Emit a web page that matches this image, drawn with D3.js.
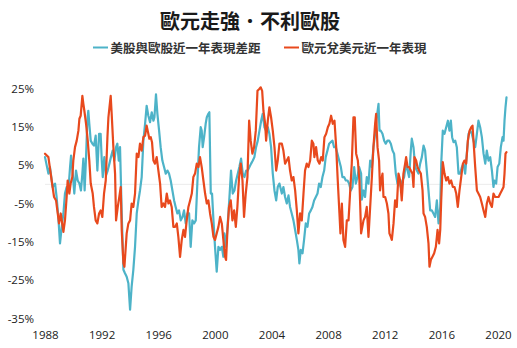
<!DOCTYPE html>
<html>
<head>
<meta charset="utf-8">
<script src="https://cdn.jsdelivr.net/npm/d3@7"></script>
<style>
  html, body { margin: 0; padding: 0; background: #fff; }
  svg { display: block; }
</style>
</head>
<body>
<svg id="chart" width="517" height="348"></svg>
<script>
// Chart text
const chartTitle = "歐元走強．不利歐股";
const seriesNames = ["美股與歐股近一年表現差距", "歐元兌美元近一年表現"];
const seriesColors = ["#4db3c8", "#e8491d"];

// Axis ticks
const yTickValues = [25, 15, 5, -5, -15, -25, -35];
const xTickValues = [1988, 1992, 1996, 2000, 2004, 2008, 2012, 2016, 2020];

// US minus European equities, trailing one-year return gap (%)
const spreadYears = [
  1988.00, 1988.24, 1988.35, 1988.54, 1988.71, 1988.82, 1988.94, 1989.06, 1989.18, 1989.30,
  1989.41, 1989.53, 1989.65, 1989.77, 1989.84, 1989.96, 1990.07, 1990.19, 1990.31, 1990.43,
  1990.54, 1990.64, 1990.71, 1990.80, 1990.90, 1990.99, 1991.06, 1991.13, 1991.23, 1991.35,
  1991.46, 1991.58, 1991.70, 1991.82, 1991.93, 1992.01, 1992.08, 1992.19, 1992.31, 1992.43,
  1992.55, 1992.66, 1992.78, 1992.90, 1993.02, 1993.11, 1993.21, 1993.30, 1993.42, 1993.54,
  1993.65, 1993.77, 1993.89, 1994.01, 1994.12, 1994.24, 1994.36, 1994.48, 1994.60, 1994.71,
  1994.83, 1994.95, 1995.07, 1995.18, 1995.30, 1995.42, 1995.54, 1995.66, 1995.73, 1995.84,
  1995.94, 1996.06, 1996.17, 1996.29, 1996.41, 1996.53, 1996.65, 1996.76, 1996.88, 1997.00,
  1997.12, 1997.23, 1997.35, 1997.47, 1997.59, 1997.71, 1997.82, 1997.94, 1998.06, 1998.18,
  1998.29, 1998.41, 1998.53, 1998.65, 1998.77, 1998.88, 1999.00, 1999.07, 1999.14, 1999.24,
  1999.35, 1999.43, 1999.54, 1999.61, 1999.71, 1999.80, 1999.90, 2000.01, 2000.13, 2000.25,
  2000.37, 2000.49, 2000.60, 2000.67, 2000.79, 2000.91, 2001.03, 2001.14, 2001.26, 2001.38,
  2001.50, 2001.62, 2001.73, 2001.85, 2001.97, 2002.09, 2002.21, 2002.32, 2002.44, 2002.56,
  2002.68, 2002.79, 2002.91, 2003.03, 2003.15, 2003.27, 2003.38, 2003.50, 2003.62, 2003.74,
  2003.85, 2003.97, 2004.09, 2004.21, 2004.33, 2004.44, 2004.56, 2004.73, 2004.84, 2004.96,
  2005.08, 2005.20, 2005.31, 2005.43, 2005.55, 2005.67, 2005.79, 2005.90, 2005.97, 2006.07,
  2006.19, 2006.30, 2006.42, 2006.54, 2006.66, 2006.78, 2006.89, 2007.01, 2007.13, 2007.25,
  2007.36, 2007.48, 2007.60, 2007.72, 2007.83, 2007.95, 2008.07, 2008.19, 2008.31, 2008.42,
  2008.54, 2008.66, 2008.78, 2008.90, 2009.01, 2009.13, 2009.25, 2009.37, 2009.48, 2009.60,
  2009.72, 2009.84, 2009.96, 2010.07, 2010.19, 2010.33, 2010.38, 2010.50, 2010.61, 2010.73,
  2010.85, 2010.97, 2011.09, 2011.20, 2011.32, 2011.44, 2011.56, 2011.63, 2011.72, 2011.84,
  2011.96, 2012.07, 2012.19, 2012.31, 2012.43, 2012.55, 2012.66, 2012.78, 2012.90, 2013.02,
  2013.13, 2013.25, 2013.37, 2013.49, 2013.61, 2013.72, 2013.84, 2013.91, 2014.03, 2014.15,
  2014.27, 2014.38, 2014.50, 2014.62, 2014.74, 2014.85, 2014.97, 2015.09, 2015.21, 2015.33,
  2015.44, 2015.56, 2015.68, 2015.80, 2015.92, 2015.99, 2016.10, 2016.22, 2016.34, 2016.46,
  2016.57, 2016.67, 2016.76, 2016.86, 2016.98, 2017.09, 2017.21, 2017.33, 2017.45, 2017.56,
  2017.68, 2017.80, 2017.92, 2018.04, 2018.15, 2018.27, 2018.39, 2018.51, 2018.62, 2018.74,
  2018.86, 2018.98, 2019.10, 2019.21, 2019.33, 2019.45, 2019.57, 2019.68, 2019.75, 2019.87,
  2019.97, 2020.09, 2020.20, 2020.32, 2020.39, 2020.46, 2020.53, 2020.60
];
const spreadValues = [
  7.1, 2.8, 4.5, -0.7, 0.2, -3.3, -8.5, -15.4, -11.1, -7.6,
  -2.4, -0.7, -1.6, 4.5, 7.5, 2.8, -2.4, 3.6, 1.0, 0.2,
  -1.6, 2.8, 6.7, -1.6, 7.1, 16.6, 19.2, 15.8, 11.4, 10.6,
  10.1, 12.7, 3.6, 13.2, 13.2, 6.2, 1.9, 7.1, 2.3, 3.6,
  5.4, 7.1, 8.8, 6.2, 9.7, 10.6, 6.2, 9.7, -7.6, -22.3,
  -23.2, -24.1, -25.8, -32.7, -26.7, -22.3, -16.3, -7.6, -4.2, -1.6,
  1.9, 11.4, 15.8, 20.5, 17.9, 16.2, 18.8, 16.6, 17.5, 23.5,
  18.4, 14.0, 9.7, 6.2, 4.5, 2.8, 3.6, 2.8, 1.0, -1.6,
  -4.2, -5.9, -7.6, -6.8, -9.4, -8.5, -6.8, -10.2, -7.6, -7.6,
  -16.3, -9.4, -10.2, -9.4, 1.0, 9.7, 14.9, 14.0, 9.7, 12.3,
  15.8, 17.5, 18.4, 18.8, -2.4, -2.4, -9.4, -16.3, -22.8, -16.3,
  -17.1, -16.3, -18.9, -12.8, -16.3, -10.2, -3.3, 3.6, -2.4, -1.6,
  1.0, 2.8, 4.5, 6.7, 2.8, 1.9, 3.6, 3.6, 4.5, 5.4,
  6.2, 7.1, 9.7, 11.4, 14.0, 16.6, 18.4, 14.9, 14.0, 14.9,
  13.2, 9.7, 2.8, -1.6, -4.2, -0.7, 0.2, -2.4, -0.7, -3.3,
  -5.0, -2.9, -5.9, -7.6, -9.4, -11.9, -14.5, -17.1, -20.6, -17.1,
  -18.0, -14.5, -10.2, -11.1, -7.6, -6.8, -5.9, -4.2, -3.3, -2.4,
  0.2, -0.7, 1.9, 3.6, 7.1, 8.8, 10.6, 11.0, 11.4, 9.7,
  9.7, 8.0, 6.2, 4.5, 1.9, 1.9, 1.0, 1.0, 0.2, -1.6,
  -0.7, 4.5, 0.2, 1.9, 4.5, 2.8, -4.0, -1.6, -3.3, 1.9,
  0.2, 6.2, 4.5, 9.7, 13.2, 17.5, 21.0, 14.0, 14.0, 13.2,
  11.4, 10.6, 11.4, 11.4, 10.6, 8.8, 8.0, 2.8, 0.2, 1.0,
  -0.7, 1.0, 1.9, 5.4, 3.6, 1.9, 8.8, 11.9, 9.7, 4.5,
  3.6, 2.8, 5.4, 7.1, 10.1, 8.8, 3.6, -1.6, -6.8, -6.8,
  -7.6, -8.5, -4.2, -10.2, -5.9, 5.4, 14.0, 13.2, 14.9, 16.6,
  14.0, 16.6, 12.3, 11.0, 11.4, 9.7, 2.8, 2.8, 4.5, 5.4,
  2.8, 8.0, 13.2, 14.0, 13.2, 11.4, 9.7, 13.2, 16.6, 14.9,
  12.3, 8.0, 5.4, 8.8, 6.2, 7.1, 3.6, -0.7, 1.0, 0.2,
  4.5, 5.4, 9.7, 12.3, 11.4, 16.6, 20.1, 22.7
];

// EUR/USD trailing one-year change (%)
const eurYears = [
  1988.00, 1988.24, 1988.47, 1988.64, 1988.78, 1988.99, 1989.11, 1989.30, 1989.41, 1989.53,
  1989.60, 1989.72, 1989.81, 1989.93, 1990.00, 1990.12, 1990.24, 1990.36, 1990.43, 1990.52,
  1990.64, 1990.71, 1990.78, 1990.90, 1991.02, 1991.13, 1991.23, 1991.37, 1991.46, 1991.58,
  1991.70, 1991.82, 1991.93, 1992.05, 1992.17, 1992.29, 1992.41, 1992.48, 1992.64, 1992.71,
  1992.83, 1992.95, 1993.02, 1993.14, 1993.25, 1993.35, 1993.42, 1993.54, 1993.61, 1993.77,
  1993.89, 1994.01, 1994.12, 1994.24, 1994.36, 1994.48, 1994.60, 1994.71, 1994.83, 1994.95,
  1995.07, 1995.18, 1995.30, 1995.37, 1995.47, 1995.56, 1995.66, 1995.77, 1995.89, 1996.01,
  1996.13, 1996.24, 1996.36, 1996.48, 1996.60, 1996.72, 1996.83, 1996.95, 1997.07, 1997.19,
  1997.31, 1997.42, 1997.54, 1997.66, 1997.78, 1997.89, 1998.01, 1998.13, 1998.25, 1998.37,
  1998.48, 1998.60, 1998.72, 1998.84, 1998.95, 1999.07, 1999.19, 1999.31, 1999.43, 1999.54,
  1999.66, 1999.78, 1999.90, 2000.01, 2000.13, 2000.25, 2000.37, 2000.49, 2000.60, 2000.72,
  2000.79, 2000.89, 2001.00, 2001.12, 2001.24, 2001.36, 2001.48, 2001.59, 2001.71, 2001.83,
  2001.95, 2002.06, 2002.18, 2002.30, 2002.42, 2002.53, 2002.65, 2002.77, 2002.89, 2003.01,
  2003.12, 2003.24, 2003.34, 2003.43, 2003.55, 2003.62, 2003.74, 2003.85, 2003.97, 2004.09,
  2004.21, 2004.33, 2004.44, 2004.56, 2004.73, 2004.84, 2004.96, 2005.08, 2005.20, 2005.31,
  2005.43, 2005.55, 2005.67, 2005.79, 2005.90, 2006.02, 2006.14, 2006.26, 2006.37, 2006.49,
  2006.61, 2006.73, 2006.85, 2006.96, 2007.03, 2007.15, 2007.27, 2007.39, 2007.51, 2007.62,
  2007.74, 2007.86, 2007.98, 2008.09, 2008.21, 2008.33, 2008.45, 2008.57, 2008.68, 2008.80,
  2008.87, 2008.97, 2009.08, 2009.20, 2009.32, 2009.44, 2009.55, 2009.67, 2009.79, 2009.88,
  2009.98, 2010.10, 2010.21, 2010.33, 2010.50, 2010.61, 2010.73, 2010.85, 2010.97, 2011.09,
  2011.20, 2011.32, 2011.39, 2011.49, 2011.60, 2011.67, 2011.75, 2011.84, 2011.91, 2012.03,
  2012.15, 2012.26, 2012.33, 2012.43, 2012.50, 2012.62, 2012.73, 2012.85, 2012.97, 2013.09,
  2013.20, 2013.32, 2013.44, 2013.51, 2013.61, 2013.72, 2013.84, 2013.96, 2014.03, 2014.10,
  2014.22, 2014.31, 2014.43, 2014.55, 2014.67, 2014.74, 2014.85, 2014.97, 2015.09, 2015.16,
  2015.26, 2015.37, 2015.49, 2015.61, 2015.73, 2015.84, 2015.92, 2015.99, 2016.10, 2016.22,
  2016.34, 2016.46, 2016.57, 2016.69, 2016.81, 2016.93, 2017.05, 2017.16, 2017.28, 2017.40,
  2017.52, 2017.63, 2017.75, 2017.87, 2017.99, 2018.11, 2018.20, 2018.27, 2018.39, 2018.51,
  2018.62, 2018.74, 2018.86, 2018.98, 2019.10, 2019.21, 2019.33, 2019.45, 2019.57, 2019.68,
  2019.80, 2019.92, 2020.04, 2020.16, 2020.27, 2020.39, 2020.46, 2020.53, 2020.60
];
const eurValues = [
  8.0, 7.1, 1.0, -3.3, -4.2, -10.2, -7.6, -12.4, -9.4, -3.3,
  1.0, -2.4, 0.2, 1.9, 6.2, 9.7, 11.4, 14.0, 17.1, 17.9,
  23.1, 21.0, 19.2, 15.8, 11.4, 6.2, 0.2, -2.4, -5.9, -9.4,
  -10.2, -7.6, -6.8, -8.5, -2.4, 1.0, 12.3, 17.5, 23.1, 18.4,
  9.7, 2.8, -9.4, -5.9, -3.3, -0.7, -11.9, -20.6, -21.5, -12.8,
  -10.2, -9.4, -5.0, -5.9, -2.4, 8.0, 7.1, 10.6, 8.8, 12.3,
  12.7, 15.3, 13.2, 11.9, 12.3, 11.0, 6.2, 5.4, 7.1, 3.6,
  0.2, -5.9, -5.0, -5.9, -2.4, -5.0, -4.2, -5.9, -11.1, -11.1,
  -10.2, -13.7, -18.9, -14.5, -11.9, -13.7, -9.4, -5.9, -4.2, -2.4,
  1.9, 2.8, 5.4, 4.5, 7.1, 4.5, 1.0, -2.4, -5.0, -4.2,
  -7.6, -10.2, -13.7, -14.5, -12.8, -11.1, -8.5, -10.2, -14.5, -18.9,
  -19.7, -11.9, -5.9, -4.2, -9.4, -6.8, -11.1, -5.9, 1.9, 5.4,
  1.0, -8.5, -2.4, 1.9, 16.6, 11.4, 8.0, 9.7, 14.0, 24.4,
  24.8, 25.3, 24.4, 19.2, 15.8, 11.4, 16.6, 20.1, 17.5, 14.0,
  9.7, 3.6, 6.2, 10.6, 10.6, 8.8, 5.4, 6.2, 7.1, 3.6,
  1.0, 1.9, -1.6, -6.8, -12.8, -7.6, -9.4, -2.4, 3.6, 5.4,
  4.5, 6.2, 11.4, 10.6, 7.1, 9.7, 6.2, 5.4, 7.1, 6.2,
  12.3, 13.2, 14.9, 15.8, 17.9, 15.8, 16.6, 9.7, 1.0, -7.6,
  -12.8, -5.0, -14.5, -16.3, -9.4, -9.4, -2.4, 5.4, 17.5, 17.5,
  8.0, 6.2, 1.0, -12.8, -9.4, -8.5, -5.9, -13.7, -5.9, 1.9,
  9.7, 15.8, 18.4, 9.7, 6.2, -1.6, 1.0, 2.8, -3.3, -3.3,
  -5.0, -7.6, -12.8, -13.7, -14.5, -10.2, -4.2, -5.9, 2.8, 1.0,
  -4.2, 2.8, 5.4, 7.1, 4.5, 4.5, 3.6, 2.8, -0.7, 7.1,
  6.2, 4.5, 3.6, 2.8, -1.6, -7.6, -8.5, -11.1, -15.4, -21.5,
  -19.7, -18.9, -18.0, -16.3, -11.9, -15.4, -11.9, -4.0, 5.8, 2.8,
  1.0, 1.9, 0.2, 1.0, -0.7, -0.7, -2.4, -5.9, -1.6, 1.9,
  5.4, 6.2, 5.4, 11.4, 14.0, 14.9, 15.3, 11.4, 4.5, -1.6,
  -2.4, -3.3, -5.0, -6.8, -8.5, -5.0, -3.3, -5.0, -5.9, -2.4,
  -3.3, -3.3, -3.3, -2.4, -1.6, -0.7, 2.8, 8.0, 8.4
];

const cjkFont = "'Noto Sans CJK TC', 'Noto Sans CJK SC', sans-serif";
const numFont = "'Open Sans', 'Noto Sans', sans-serif";

const svg = d3.select("#chart");

const x = d3.scaleLinear().domain([1988, 2020]).range([45, 498]);
const y = d3.scaleLinear().domain([-35, 25]).range([318.5, 88.5]);

const toPoints = (years, values) => years.map((yr, i) => ({ year: yr, value: values[i] }));
const series = [
  { name: seriesNames[0], color: seriesColors[0], points: toPoints(spreadYears, spreadValues) },
  { name: seriesNames[1], color: seriesColors[1], points: toPoints(eurYears, eurValues) }
];

// Title
svg.append("text")
  .attr("x", 250)
  .attr("y", 20.5)
  .attr("text-anchor", "middle")
  .attr("dominant-baseline", "central")
  .style("font-family", cjkFont)
  .style("font-size", "20px")
  .style("font-weight", "bold")
  .style("fill", "#1a1a1a")
  .text(chartTitle);

// Legend
const legendItems = [
  { x: 93, color: seriesColors[0], label: seriesNames[0] },
  { x: 284, color: seriesColors[1], label: seriesNames[1] }
];
const legend = svg.append("g").attr("transform", "translate(0,47.5)");
const li = legend.selectAll("g").data(legendItems).join("g")
  .attr("transform", d => `translate(${d.x},0)`);
li.append("line")
  .attr("x1", 0).attr("x2", 15).attr("y1", 0).attr("y2", 0)
  .attr("stroke", d => d.color).attr("stroke-width", 2);
li.append("text")
  .attr("x", 17.5).attr("y", 0)
  .attr("dominant-baseline", "central")
  .style("font-family", cjkFont)
  .style("font-size", "12.5px")
  .style("font-weight", "bold")
  .style("fill", "#333")
  .text(d => d.label);

// Zero reference line
svg.append("line")
  .attr("x1", x(1988)).attr("x2", x(2020.65))
  .attr("y1", y(0)).attr("y2", y(0))
  .attr("stroke", "#ebebeb").attr("stroke-width", 1);

// Y axis (labels only)
const yAxis = svg.append("g")
  .attr("transform", "translate(34,0)")
  .call(d3.axisLeft(y).tickValues(yTickValues).tickSize(0).tickPadding(0)
    .tickFormat(d => d + "%"));
yAxis.select(".domain").remove();
yAxis.selectAll("text")
  .style("font-family", numFont)
  .style("font-size", "11.5px")
  .style("fill", "#222");

// X axis (labels only)
const xAxis = svg.append("g")
  .attr("transform", "translate(0,331)")
  .call(d3.axisBottom(x).tickValues(xTickValues).tickSize(0).tickPadding(0)
    .tickFormat(d3.format("d")));
xAxis.select(".domain").remove();
xAxis.selectAll("text")
  .style("font-family", numFont)
  .style("font-size", "11.5px")
  .style("fill", "#222");

// Series lines
const line = d3.line()
  .x(d => x(d.year))
  .y(d => y(d.value));

svg.append("g").selectAll("path").data(series).join("path")
  .attr("d", d => line(d.points))
  .attr("fill", "none")
  .attr("stroke", d => d.color)
  .attr("stroke-width", 2.2)
  .attr("stroke-linejoin", "round")
  .attr("stroke-linecap", "round");
</script>
</body>
</html>
